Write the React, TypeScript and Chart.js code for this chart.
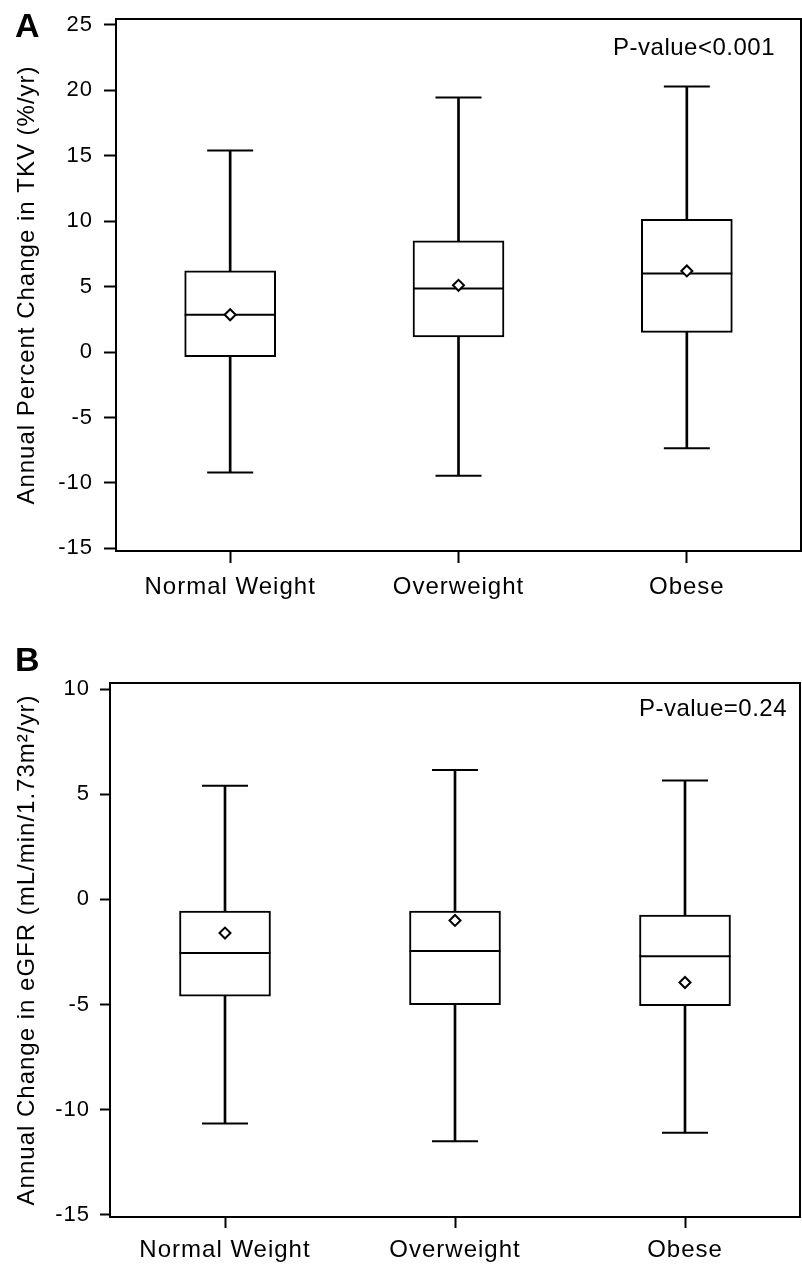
import React, { useEffect, useRef } from "react";
import { Chart, registerables } from "chart.js";

Chart.register(...registerables);

// ---------- data ----------
const categories = ["Normal Weight", "Overweight", "Obese"];

// Panel A: Annual Percent Change in TKV (%/yr)
const tkvLow = [-9.2, -9.45, -7.35];
const tkvQ1 = [-0.35, 1.15, 1.5];
const tkvMedian = [2.85, 4.85, 6.0];
const tkvQ3 = [6.2, 8.5, 10.15];
const tkvHigh = [15.4, 19.45, 20.3];
const tkvMean = [2.85, 5.1, 6.2];
const tkvTicks = [-15, -10, -5, 0, 5, 10, 15, 20, 25];

// Panel B: Annual Change in eGFR (mL/min/1.73m²/yr)
const egfrLow = [-10.65, -11.5, -11.1];
const egfrQ1 = [-4.6, -5.0, -5.05];
const egfrMedian = [-2.55, -2.45, -2.7];
const egfrQ3 = [-0.55, -0.55, -0.75];
const egfrHigh = [5.4, 6.15, 5.65];
const egfrMean = [-1.6, -1.0, -3.95];
const egfrTicks = [-15, -10, -5, 0, 5, 10];

const FONT = "'Liberation Sans', Arial, Helvetica, sans-serif";
const LS = "1px";

type PanelSpec = {
  letter: string;
  pText: string;
  yTitle: string;
  low: number[];
  q1: number[];
  median: number[];
  q3: number[];
  high: number[];
  mean: number[];
  ticks: number[];
  yMin: number;
  yMax: number;
  padTop: number;
  padRight: number;
  yAxisWidth: number;
  xAxisHeight: number;
  yTickLen: number;
  yTickPad: number;
  xTickLen: number;
  xTickPad: number;
  pRightInset: number;
  pBaseline: number;
  letterBaseline: number;
};

function zeroPadding(scale: any) {
  scale.paddingTop = 0;
  scale.paddingBottom = 0;
  scale.paddingLeft = 0;
  scale.paddingRight = 0;
}

function makeConfig(s: PanelSpec): any {
  const annot = {
    id: "annot" + s.letter,
    beforeDraw(chart: any) {
      (chart.ctx as any).letterSpacing = LS;
    },
    afterDraw(chart: any) {
      const { ctx, chartArea } = chart;
      ctx.save();
      ctx.strokeStyle = "#000";
      ctx.lineWidth = 2;
      ctx.strokeRect(
        chartArea.left,
        chartArea.top,
        chartArea.right - chartArea.left,
        chartArea.bottom - chartArea.top
      );
      ctx.fillStyle = "#000";
      ctx.textBaseline = "alphabetic";
      (ctx as any).letterSpacing = "0.5px";
      ctx.font = `24px ${FONT}`;
      ctx.textAlign = "right";
      ctx.fillText(s.pText, chartArea.right - s.pRightInset, chartArea.top + s.pBaseline);
      (ctx as any).letterSpacing = "0px";
      ctx.font = `bold 34px ${FONT}`;
      ctx.textAlign = "left";
      ctx.fillText(s.letter, 15, s.letterBaseline);
      ctx.restore();
    },
  };

  const black = "#000";
  return {
    type: "bar",
    data: {
      labels: categories,
      datasets: [
        {
          type: "bar",
          label: "whisker",
          data: s.low.map((v, i) => [v, s.high[i]]),
          backgroundColor: black,
          borderWidth: 0,
          barThickness: 2,
          grouped: false,
          order: 6,
        },
        {
          type: "bar",
          label: "box",
          data: s.q1.map((v, i) => [v, s.q3[i]]),
          backgroundColor: "#fff",
          borderColor: black,
          borderWidth: 2,
          borderSkipped: false,
          barThickness: 91,
          grouped: false,
          order: 5,
        },
        {
          type: "line",
          label: "median",
          data: s.median,
          showLine: false,
          pointStyle: "line",
          pointRadius: 45.5,
          pointBorderWidth: 2,
          pointBorderColor: black,
          order: 3,
        },
        {
          type: "line",
          label: "upper",
          data: s.high,
          showLine: false,
          pointStyle: "line",
          pointRadius: 23,
          pointBorderWidth: 2,
          pointBorderColor: black,
          order: 2,
        },
        {
          type: "line",
          label: "lower",
          data: s.low,
          showLine: false,
          pointStyle: "line",
          pointRadius: 23,
          pointBorderWidth: 2,
          pointBorderColor: black,
          order: 2,
        },
        {
          type: "line",
          label: "mean",
          data: s.mean,
          showLine: false,
          pointStyle: "rectRot",
          pointRadius: 5.5,
          pointBorderWidth: 2,
          pointBorderColor: black,
          pointBackgroundColor: "#fff",
          order: 1,
        },
      ],
    },
    options: {
      responsive: false,
      animation: false,
      devicePixelRatio: 1,
      events: [],
      layout: {
        autoPadding: false,
        padding: { top: s.padTop, right: s.padRight, left: 0, bottom: 0 },
      },
      plugins: { legend: { display: false }, tooltip: { enabled: false } },
      scales: {
        x: {
          type: "category",
          offset: true,
          grid: {
            offset: false,
            drawOnChartArea: false,
            drawTicks: true,
            tickLength: s.xTickLen,
            tickWidth: 2,
            tickColor: black,
            color: black,
          },
          border: { display: false },
          ticks: {
            font: { family: FONT, size: 24 },
            color: black,
            padding: s.xTickPad,
            maxRotation: 0,
            minRotation: 0,
            autoSkip: false,
          },
          afterFit: (scale: any) => {
            scale.height = s.xAxisHeight;
            zeroPadding(scale);
          },
        },
        y: {
          type: "linear",
          min: s.yMin,
          max: s.yMax,
          afterBuildTicks: (scale: any) => {
            scale.ticks = s.ticks.map((v) => ({ value: v }));
          },
          grid: {
            drawOnChartArea: false,
            drawTicks: true,
            tickLength: s.yTickLen,
            tickWidth: 2,
            tickColor: black,
            color: black,
          },
          border: { display: false },
          ticks: {
            font: { family: FONT, size: 22 },
            color: black,
            padding: s.yTickPad,
          },
          title: {
            display: true,
            text: s.yTitle,
            font: { family: FONT, size: 24 },
            color: black,
            padding: { top: 13, bottom: 0 },
          },
          afterFit: (scale: any) => {
            scale.width = s.yAxisWidth;
            zeroPadding(scale);
          },
        },
      },
    },
    plugins: [annot],
  };
}

const panelA: PanelSpec = {
  letter: "A",
  pText: "P-value<0.001",
  yTitle: "Annual Percent Change in TKV (%/yr)",
  low: tkvLow,
  q1: tkvQ1,
  median: tkvMedian,
  q3: tkvQ3,
  high: tkvHigh,
  mean: tkvMean,
  ticks: tkvTicks,
  yMin: -15.2,
  yMax: 25.45,
  padTop: 19,
  padRight: 1,
  yAxisWidth: 116,
  xAxisHeight: 69,
  yTickLen: 12,
  yTickPad: 11,
  xTickLen: 12,
  xTickPad: 10,
  pRightInset: 26,
  pBaseline: 36,
  letterBaseline: 37,
};

const panelB: PanelSpec = {
  letter: "B",
  pText: "P-value=0.24",
  yTitle: "Annual Change in eGFR (mL/min/1.73m\u00B2/yr)",
  low: egfrLow,
  q1: egfrQ1,
  median: egfrMedian,
  q3: egfrQ3,
  high: egfrHigh,
  mean: egfrMean,
  ticks: egfrTicks,
  yMin: -15.1,
  yMax: 10.29,
  padTop: 63,
  padRight: 2,
  yAxisWidth: 110,
  xAxisHeight: 51,
  yTickLen: 10,
  yTickPad: 10,
  xTickLen: 11,
  xTickPad: 8,
  pRightInset: 13,
  pBaseline: 33,
  letterBaseline: 51,
};

function Panel({ spec, height }: { spec: PanelSpec; height: number }) {
  const ref = useRef<HTMLCanvasElement | null>(null);
  useEffect(() => {
    if (!ref.current) return;
    const chart = new Chart(ref.current, makeConfig(spec));
    return () => chart.destroy();
  }, [spec]);
  return (
    <canvas
      ref={ref}
      width={802}
      height={height}
      style={{ display: "block", width: 802, height }}
    />
  );
}

export default function App() {
  return (
    <div
      style={{
        position: "absolute",
        left: 0,
        top: 0,
        width: 802,
        height: 1268,
        background: "#fff",
        overflow: "hidden",
      }}
    >
      <Panel spec={panelA} height={620} />
      <Panel spec={panelB} height={648} />
    </div>
  );
}
